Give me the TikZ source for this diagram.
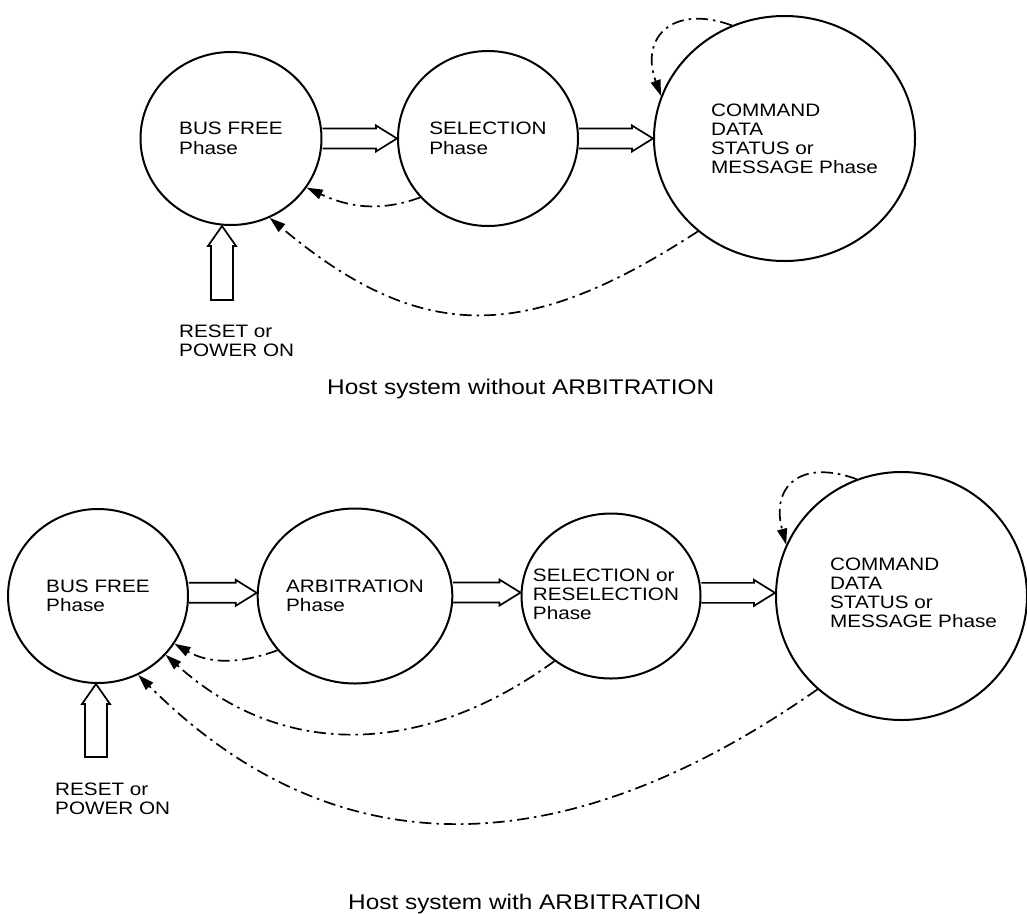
\documentclass[tikz,border=0pt]{standalone}
\usepackage{fontspec}
\newfontfamily\phasefont[FakeStretch=1.15]{Liberation Sans}
\usetikzlibrary{shapes.geometric,arrows.meta,calc}
\tikzset{
  phase/.style = {draw, ellipse, line width=2pt, inner sep=0pt, align=left,
    font=\phasefont\fontsize{18}{19.5}\selectfont},
  lbl/.style = {align=left, inner sep=0pt, font=\phasefont\fontsize{18}{19}\selectfont},
  caption/.style = {anchor=west, inner sep=0pt, font=\phasefont\fontsize{21.2}{24}\selectfont},
  back/.style = {draw, line width=1.7pt, dash pattern=on 12pt off 5pt on 2.5pt off 5pt,
    -{Triangle[length=16pt,width=10pt]}},
  fatright/.style = {draw, line width=1.7pt, to path={let \p1=(\tikztostart), \p2=(\tikztotarget) in
    (\x1,\y1+10pt) -- (\x2-21pt,\y1+10pt) -- (\x2-21pt,\y1+13pt) -- (\x2,\y1)
    -- (\x2-21pt,\y1-13pt) -- (\x2-21pt,\y1-10pt) -- (\x1,\y1-10pt)}},
  fatup/.style = {draw, line width=1.7pt, to path={let \p1=(\tikztostart), \p2=(\tikztotarget) in
    (\x1-11pt,\y1) -- (\x1-11pt,\y2-20pt) -- (\x1-14pt,\y2-20pt) -- (\x1,\y2)
    -- (\x1+14pt,\y2-20pt) -- (\x1+11pt,\y2-20pt) -- (\x1+11pt,\y1) -- cycle}}
}
\begin{document}
\begin{tikzpicture}[x=1pt, y=-1pt, node distance=257pt]
\useasboundingbox (0,0) rectangle (1027,913);

% without arbitration
\node[phase, minimum width=181pt, minimum height=173pt] (bf) at (231,138.5) {BUS FREE\\Phase};
\node[phase, minimum width=180pt, minimum height=175pt, right of=bf] (sel) {SELECTION\\Phase};
\node[phase, minimum width=261pt, minimum height=245pt, right of=sel, node distance=296.5pt,
  label={[lbl, xshift=10pt]center:COMMAND\\DATA\\STATUS or\\MESSAGE Phase}] (cmd) {};
\coordinate (rst) at (222,300);
\node[lbl, anchor=west] (rsttxt) at (179,341) {RESET or\\POWER ON};
\node[caption] (cap1) at (327,389) {Host system without ARBITRATION};
\draw[fatright] (bf.east) to (sel.west);
\draw[fatright] (sel.east) to (cmd.west);
\draw[fatup] (rst) to (bf.south);
\path[back] (sel.221) to[out=200, in=335] (bf.327);
\path[back] (cmd.227) to[out=213, in=320, looseness=1.2] (bf.296);
\path[back] (cmd.115) to[out=160, in=110, looseness=1.6] (cmd.161);

% with arbitration
\node[phase, minimum width=180pt, minimum height=174pt] (bf2) at (98,596) {BUS FREE\\Phase};
\node[phase, minimum width=180pt, minimum height=175pt, right of=bf2] (arb) {ARBITRATION\\Phase};
\node[phase, minimum width=179pt, minimum height=165pt, right of=arb, node distance=256pt,
  label={[lbl, xshift=-5pt, yshift=1.5pt]center:SELECTION or\\RESELECTION\\Phase}] (sel2) {};
\node[phase, minimum width=251pt, minimum height=248pt, right of=sel2, node distance=290.5pt,
  label={[lbl, xshift=12pt, yshift=3.5pt]center:COMMAND\\DATA\\STATUS or\\MESSAGE Phase}] (cmd2) {};
\coordinate (rst2) at (96,757);
\node[lbl, anchor=west] (rsttxt2) at (55,798.5) {RESET or\\POWER ON};
\node[caption] (cap2) at (348,904.5) {Host system with ARBITRATION};
\draw[fatright] (bf2.2) to (arb.west);
\draw[fatright] (arb.2) to (sel2.west);
\draw[fatright] (sel2.2) to (cmd2.west);
\draw[fatup] (rst2) to (bf2.south);
\path[back] (arb.215) to[out=200, in=330] (bf2.328);
\path[back] (sel2.229) to[out=216, in=318, looseness=1.05] (bf2.319);
\path[back] (cmd2.228) to[out=215, in=315, looseness=1.1] (bf2.297);
\path[back] (cmd2.111) to[out=160, in=105, looseness=1.6] (cmd2.156);
\end{tikzpicture}
\end{document}
